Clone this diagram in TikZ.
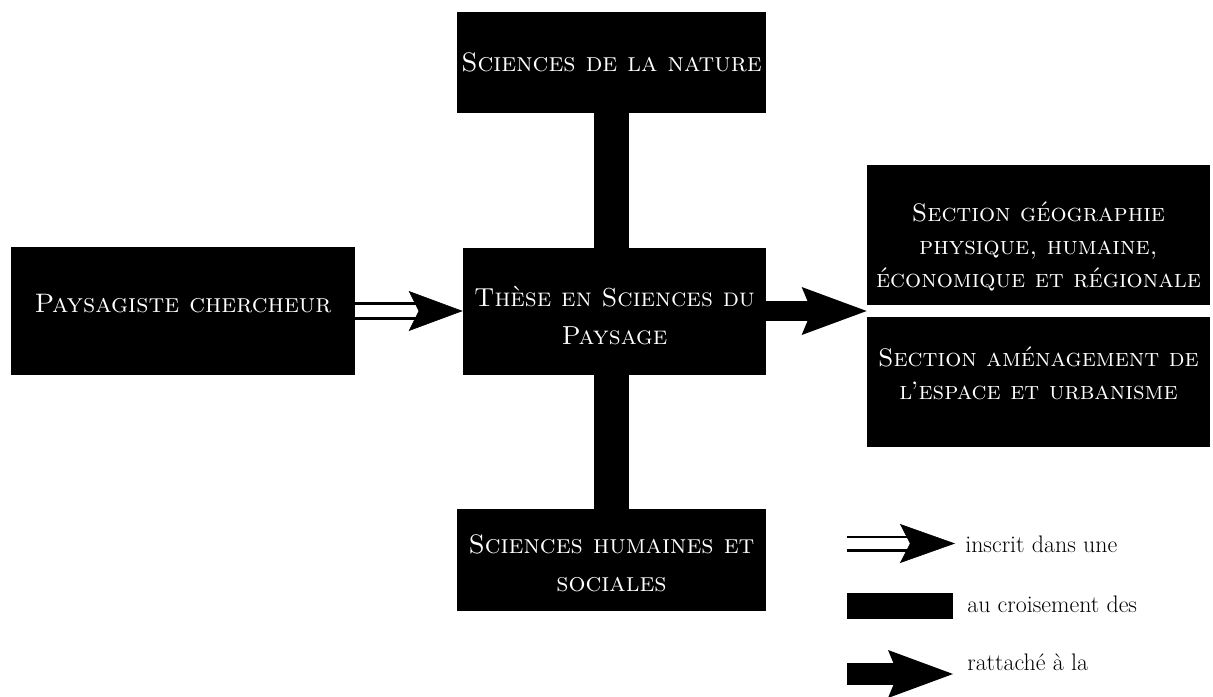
\documentclass[tikz,border=0pt]{standalone}
\usetikzlibrary{calc,arrows.meta}
\def\haut#1{\rule{0pt}{#1}}
\def\bas#1{\rule[-#1]{0pt}{1pt}}
\tikzset{
  boite/.style={fill=black, text=white, align=center, inner sep=0pt, font=\fontsize{19}{26.5}\selectfont\scshape},
  section/.style={boite, font=\fontsize{18}{23.5}\selectfont\scshape},
  barre/.style={line width=0.85cm},
  inscrit/.style={double, double distance=0.3cm, line width=0.07cm},
  rattache/.style={line width=0.5cm},
  legende/.style={anchor=base west, inner sep=0pt, font=\fontsize{17}{20}\selectfont},
}

\begin{document}
\begin{tikzpicture}[x=0.025cm, y=-0.025cm]
			%%%%% START %%%%%
			\useasboundingbox (0, 0) rectangle (1213, 697);
			
			\node[boite, minimum width=8.6cm, minimum height=3.2cm] (paysagiste) at (183, 311) {Paysagiste chercheur\bas{11pt}};
			\node[boite, minimum width=7.575cm, minimum height=3.175cm, font=\fontsize{18.5}{26.5}\selectfont\scshape] (these) at (614.5, 311.5) {\haut{20pt}Thèse en Sciences du\\Paysage};
			\node[boite, minimum width=7.725cm, minimum height=2.525cm] (nature) at (611.5, 62.5) {Sciences de la nature};
			\node[boite, minimum width=7.725cm, minimum height=2.55cm] (humaines) at (611.5, 560) {\haut{18pt}Sciences humaines et\\sociales};
			\node[section, minimum width=8.575cm, minimum height=3.5cm] (geo) at (1038.5, 235) {\haut{30pt}Section géographie\\physique, humaine,\\économique et régionale};
			\node[section, minimum width=8.575cm, minimum height=3.25cm] (amenag) at (1038.5, 382) {Section aménagement de\\l’espace et urbanisme\bas{13pt}};
			
			% croisement
			\draw[barre] (nature.south) -- (nature.south |- these.north);
			\draw[barre] (these.south -| humaines.north) -- (humaines.north);
			
			% inscrit dans une
			\coordinate (pointe) at (these.west |- paysagiste.east);
			\draw[inscrit] (paysagiste.east) -- ($(pointe)+(-40, 0)$);
			\draw[-{Stealth[length=1.35cm, width=1cm, inset=0.25cm]}, line width=0.4pt] ($(pointe)+(-20, 0)$) -- (pointe);
			
			% rattache a la
			\coordinate (jonction) at ($(geo.south west)!0.5!(amenag.north west)$);
			\draw[rattache, -{Stealth[length=1.625cm, width=1.2cm, inset=0.25cm, line width=0pt]}] (these.east |- jonction) -- (jonction);
			
			% legende
			\coordinate (l1a) at (847, 543.5);
			\coordinate (l1b) at (955, 543.5);
			\draw[inscrit, double distance=0.26cm] (l1a) -- ($(l1b)+(-40, 0)$);
			\draw[-{Stealth[length=1.375cm, width=0.975cm, inset=0.25cm]}, line width=0.4pt] ($(l1b)+(-20, 0)$) -- (l1b);
			\node[legende] (linscrit) at (965, 552) {inscrit dans une};
			
			\fill (847, 593) rectangle (953, 619);
			\node[legende] (lcroise) at (967, 612) {au croisement des};
			
			\coordinate (l3a) at (847, 674);
			\coordinate (l3b) at (953, 674);
			\draw[rattache, line width=0.55cm, -{Stealth[length=1.625cm, width=1.2cm, inset=0.25cm, line width=0pt]}] (l3a) -- (l3b);
			\node[legende] (lrattache) at (967, 670) {rattaché à la};
			
			%%%%% END %%%%%
\end{tikzpicture}
\end{document}
